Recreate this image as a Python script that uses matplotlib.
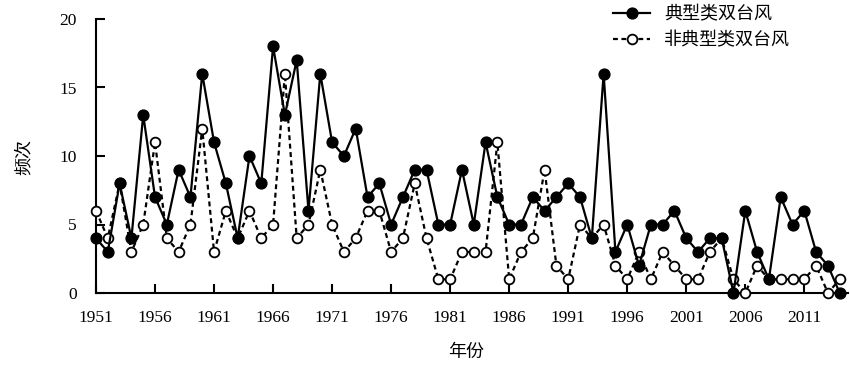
import matplotlib
matplotlib.use("Agg")
import matplotlib.pyplot as plt
import numpy as np

# values
years = list(range(1951, 2015))
typical = [4, 3, 8, 4, 13, 7, 5, 9, 7, 16,
           11, 8, 4, 10, 8, 18, 13, 17, 6, 16,
           11, 10, 12, 7, 8, 5, 7, 9, 9, 5,
           5, 9, 5, 11, 7, 5, 5, 7, 6, 7,
           8, 7, 4, 16, 3, 5, 2, 5, 5, 6,
           4, 3, 4, 4, 0, 6, 3, 1, 7, 5,
           6, 3, 2, 0]
atypical = [6, 4, 8, 3, 5, 11, 4, 3, 5, 12,
            3, 6, 4, 6, 4, 5, 16, 4, 5, 9,
            5, 3, 4, 6, 6, 3, 4, 8, 4, 1,
            1, 3, 3, 3, 11, 1, 3, 4, 9, 2,
            1, 5, 4, 5, 2, 1, 3, 1, 3, 2,
            1, 1, 3, 4, 1, 0, 2, 1, 1, 1,
            1, 2, 0, 1]
xticks = list(range(1951, 2012, 5))
yticks = [0, 5, 10, 15, 20]
labels = ['典型类双台风', '非典型类双台风']

cjk = ['Noto Sans CJK SC', 'DejaVu Sans']
serif = 'Liberation Serif'

fig = plt.figure(figsize=(8.5, 3.74), dpi=100)
ax = fig.add_axes([96 / 850, 81 / 374, 752 / 850, 274 / 374])

ax.plot(years, typical, color='black', linewidth=1.6, marker='o',
        markersize=7.8, markerfacecolor='black', markeredgecolor='black',
        label=labels[0], clip_on=False, zorder=4)
ax.plot(years, atypical, color='black', linewidth=1.6, linestyle=(0, (2.2, 1.6)),
        marker='o', markersize=7, markerfacecolor='white', markeredgecolor='black',
        markeredgewidth=1.3, label=labels[1], clip_on=False, zorder=3)

ax.set_xlim(1951, 2014.7)
ax.set_ylim(0, 20)
ax.set_xticks(xticks)
ax.set_yticks(yticks)
ax.set_xticklabels([str(y) for y in xticks], fontfamily=serif, fontsize=12.5)
ax.set_yticklabels([str(v) for v in yticks], fontfamily=serif, fontsize=12.5)

for side in ['top', 'right']:
    ax.spines[side].set_visible(False)
for side in ['left', 'bottom']:
    ax.spines[side].set_linewidth(1.5)
ax.tick_params(axis='both', direction='in', length=6.5, width=1.5)
ax.tick_params(axis='y', pad=14)
ax.tick_params(axis='x', pad=12)

ax.set_xlabel('年份', family=cjk, fontsize=13)
ax.xaxis.set_label_coords(0.492, -0.182)
ax.set_ylabel('频次', family=cjk, fontsize=13)
ax.yaxis.set_label_coords(-0.084, 0.496)

leg = ax.legend(loc='upper left', bbox_to_anchor=(613 / 850, 0.985),
                bbox_transform=fig.transFigure, frameon=False,
                prop={'family': cjk, 'size': 13}, handlelength=2.05,
                handletextpad=0.8, labelspacing=0.45, borderpad=0,
                borderaxespad=0)

fig.savefig('out.png', dpi=100)
